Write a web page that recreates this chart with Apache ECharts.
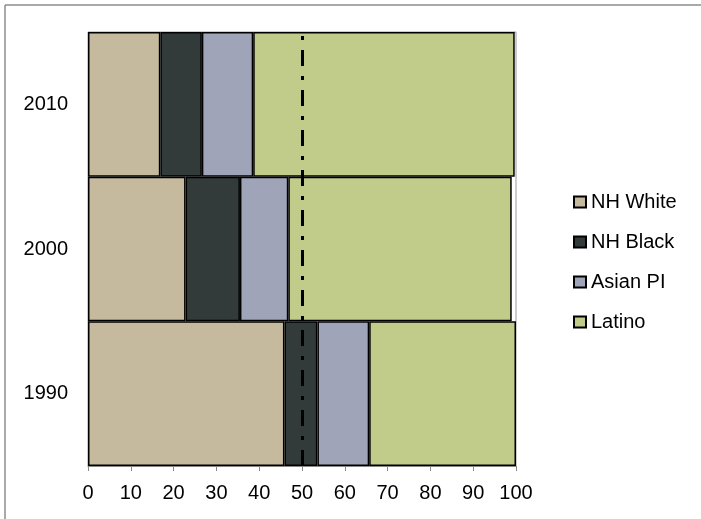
<!DOCTYPE html>
<html>
<head>
<meta charset="utf-8">
<script src="https://cdn.jsdelivr.net/npm/echarts@6/dist/echarts.min.js"></script>
<style>html,body{margin:0;padding:0;background:#fff;}#c{width:701px;height:519px;}</style>
</head>
<body>
<div id="c"></div>
<script>
const years = ['1990', '2000', '2010'];
const nhWhite = [45.9, 22.8, 16.9];
const nhBlack = [7.7, 12.7, 9.7];
const asianPI = [12.1, 11.3, 12.0];
const latino = [34.3, 52.2, 61.1];
const xTicks = [0, 10, 20, 30, 40, 50, 60, 70, 80, 90, 100];
const refValue = 50;

const font = '"Liberation Sans", Arial, sans-serif';
const chart = echarts.init(document.getElementById('c'));
function mk(name, data, color, extra) {
  return Object.assign({
    name: name, type: 'bar', stack: 'all', data: data,
    barCategoryGap: '0%', barWidth: '100%',
    itemStyle: { color: color, borderColor: '#000', borderWidth: 1.5 },
    emphasis: { disabled: true }
  }, extra || {});
}
chart.setOption({
  animation: false,
  textStyle: { fontFamily: font },
  graphic: [
    { type: 'line', shape: { x1: 5, y1: 5, x2: 701, y2: 5 }, style: { stroke: '#8c8c8c', lineWidth: 1.5 }, silent: true },
    { type: 'line', shape: { x1: 5, y1: 5, x2: 5, y2: 519 }, style: { stroke: '#8c8c8c', lineWidth: 1.5 }, silent: true }
  ],
  grid: { left: 88, top: 32, width: 428, height: 434, show: true, borderColor: '#999', borderWidth: 1, backgroundColor: 'transparent' },
  legend: {
    orient: 'vertical', left: 573, top: 192, padding: 0, icon: 'rect',
    itemWidth: 12, itemHeight: 11, itemGap: 20,
    textStyle: { fontSize: 20, color: '#000', fontFamily: font },
    data: ['NH White', 'NH Black', 'Asian PI', 'Latino']
  },
  xAxis: {
    type: 'value', min: xTicks[0], max: xTicks[xTicks.length - 1], interval: 10,
    splitLine: { show: false },
    axisLine: { show: true, lineStyle: { color: '#888' } },
    axisTick: { show: true, length: 5, lineStyle: { color: '#888' } },
    axisLabel: { fontSize: 20, color: '#000', margin: 17, fontFamily: font }
  },
  yAxis: {
    type: 'category', data: years,
    axisLine: { show: false }, axisTick: { show: false },
    axisLabel: { fontSize: 20, color: '#000', margin: 20, fontFamily: font }
  },
  series: [
    mk('NH White', nhWhite, '#C6BA9E'),
    mk('NH Black', nhBlack, '#323A3A'),
    mk('Asian PI', asianPI, '#A0A4B9'),
    mk('Latino', latino, '#C1CC8B', {
      markLine: {
        silent: true, symbol: 'none', label: { show: false }, z: 10,
        lineStyle: { color: '#000', width: 3, type: [16, 10, 4, 10] },
        data: [{ xAxis: refValue }]
      }
    })
  ]
});
</script>
</body>
</html>
